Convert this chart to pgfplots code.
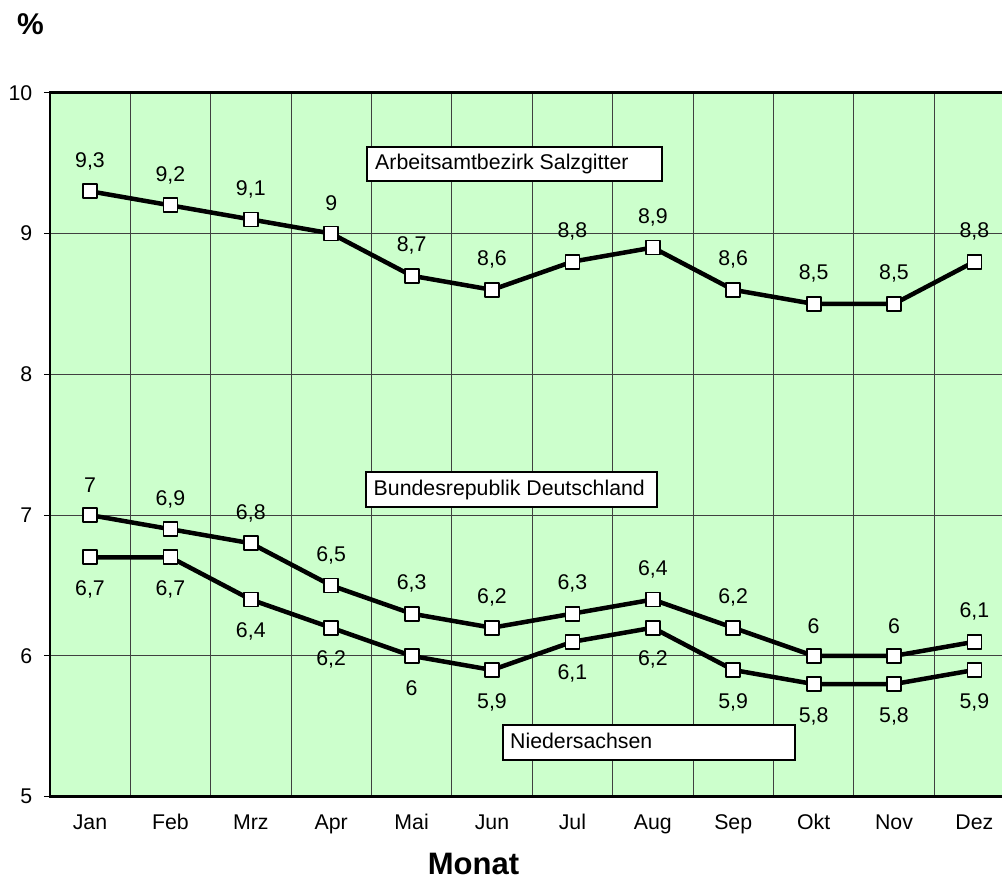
\documentclass[border=0pt]{standalone}
\usepackage{fontspec}
\setmainfont{Liberation Sans}
\usepackage{pgfplots}
\usepackage{pgfplotstable}
\pgfplotsset{compat=1.18}
\definecolor{bggreen}{HTML}{CCFFCC}
\pgfplotstableread{
x y lab
0.5 9.3 9,3
1.5 9.2 9,2
2.5 9.1 9,1
3.5 9.0 9
4.5 8.7 8,7
5.5 8.6 8,6
6.5 8.8 8,8
7.5 8.9 8,9
8.5 8.6 8,6
9.5 8.5 8,5
10.5 8.5 8,5
11.5 8.8 8,8
}\salz
\pgfplotstableread{
x y lab
0.5 7.0 7
1.5 6.9 6,9
2.5 6.8 6,8
3.5 6.5 6,5
4.5 6.3 6,3
5.5 6.2 6,2
6.5 6.3 6,3
7.5 6.4 6,4
8.5 6.2 6,2
9.5 6.0 6
10.5 6.0 6
11.5 6.1 6,1
}\bund
\pgfplotstableread{
x y lab
0.5 6.7 6,7
1.5 6.7 6,7
2.5 6.4 6,4
3.5 6.2 6,2
4.5 6.0 6
5.5 5.9 5,9
6.5 6.1 6,1
7.5 6.2 6,2
8.5 5.9 5,9
9.5 5.8 5,8
10.5 5.8 5,8
11.5 5.9 5,9
}\nieder
\newcommand{\lbl}{\fontsize{21.3}{25}\selectfont}
\begin{document}
\begin{tikzpicture}
\useasboundingbox (0pt,0pt) rectangle (1002pt,880pt);
\begin{axis}[
  at={(49.8pt,83.3pt)}, anchor=south west,
  scale only axis, width=964.8pt, height=704pt,
  xmin=0, xmax=12, ymin=5, ymax=10,
  xtick={0.5,1.5,...,11.5},
  xticklabels={Jan,Feb,Mrz,Apr,Mai,Jun,Jul,Aug,Sep,Okt,Nov,Dez},
  minor xtick={1,2,...,11}, xminorgrids=true,
  ytick={5,6,...,10}, ymajorgrids=true,
  tick align=outside,
  x tick style={draw=none},
  y tick style={black, line width=0.8pt},
  major tick length=6pt, minor tick length=0pt,
  grid style={black!75, line width=0.9pt},
  minor grid style={black!75, line width=0.9pt},
  axis line style={line width=2.5pt},
  axis background/.style={fill=bggreen},
  tick label style={font=\lbl},
  /pgf/number format/assume math mode=true,
  yticklabel style={xshift=-8pt},
  xticklabel style={anchor=base, yshift=-27pt},
  point meta=explicit symbolic,
  nodes near coords,
  every node near coord/.append style={font=\lbl, anchor=center, text=black},
  clip=false,
]
\addplot[black, line width=4.5pt, line join=round, mark=square*, mark size=7pt,
  mark options={fill=white, draw=black, line width=1.8pt},
  nodes near coords style={yshift=30pt}] table[x=x,y=y,meta=lab]{\salz};
\addplot[black, line width=4.5pt, line join=round, mark=square*, mark size=7pt,
  mark options={fill=white, draw=black, line width=1.8pt},
  nodes near coords style={yshift=30pt}] table[x=x,y=y,meta=lab]{\bund};
\addplot[black, line width=4.5pt, line join=round, mark=square*, mark size=7pt,
  mark options={fill=white, draw=black, line width=1.8pt},
  nodes near coords style={yshift=-32pt}] table[x=x,y=y,meta=lab]{\nieder};
\end{axis}
\draw[fill=white, line width=1.8pt] (367pt,733pt) rectangle (662pt,699pt);
\node[anchor=base west, inner sep=0pt, font=\lbl] at (375pt,710.7pt) {Arbeitsamtbezirk Salzgitter};
\draw[fill=white, line width=1.8pt] (366pt,408pt) rectangle (657pt,373pt);
\node[anchor=base west, inner sep=0pt, font=\lbl] at (373.5pt,384.5pt) {Bundesrepublik Deutschland};
\draw[fill=white, line width=1.8pt] (503pt,155pt) rectangle (795pt,120pt);
\node[anchor=base west, inner sep=0pt, font=\lbl] at (510pt,131.5pt) {Niedersachsen};
\node[anchor=base west, inner sep=0pt, font=\fontsize{30}{36}\bfseries\selectfont] at (17pt,845pt) {\%};
\node[anchor=base, inner sep=0pt, font=\fontsize{31}{37}\bfseries\selectfont] at (473.5pt,5pt) {Monat};
\end{tikzpicture}
\end{document}
